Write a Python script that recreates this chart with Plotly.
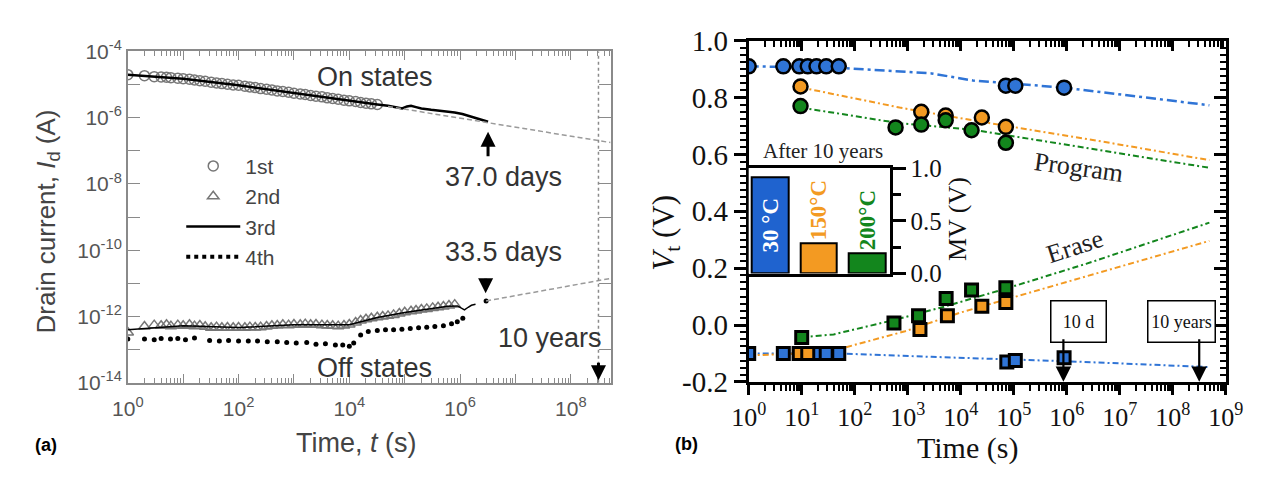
import math
import plotly.graph_objects as go

W, H = 1271, 480
SANS = "Liberation Sans, Arial, sans-serif"
SERIF = "Liberation Serif, Times New Roman, serif"

# ---------------- Panel (a) data: drain current vs time ----------------
# 1st cycle, on state (open circles)
on1_t = [1, 2, 3, 4, 5, 6, 8, 10, 13, 16, 20, 25, 32, 40, 50, 63, 80, 100, 130, 160,
         200, 250, 320, 400, 500, 630, 800, 1000, 1300, 1600, 2000, 2500, 3200, 4000,
         5000, 6300, 8000, 10000, 13000, 16000, 20000, 25000, 32000]
on1_log10_I = [-4.70, -4.73, -4.76, -4.77, -4.78, -4.79, -4.81, -4.82, -4.84, -4.86,
               -4.88, -4.90, -4.93, -4.95, -4.97, -4.99, -5.01, -5.02, -5.05, -5.07,
               -5.09, -5.12, -5.14, -5.16, -5.19, -5.21, -5.23, -5.26, -5.28, -5.30,
               -5.33, -5.35, -5.37, -5.40, -5.42, -5.44, -5.47, -5.49, -5.51, -5.54,
               -5.56, -5.58, -5.60]
# 2nd cycle, off state (open triangles)
off2_t = [1, 2, 3, 4, 5, 6, 8, 10, 13, 16, 20, 25, 32, 40, 50, 63, 80, 100, 130, 160,
          200, 250, 320, 400, 500, 630, 800, 1000, 1300, 1600, 2000, 2500, 3200, 4000,
          5000, 6300, 8000, 10000, 13000, 16000, 20000, 25000, 32000, 40000, 50000,
          63000, 80000, 1.0e5, 1.3e5, 1.6e5, 2.0e5, 2.5e5, 3.2e5, 4.0e5, 5.0e5, 6.3e5, 8.0e5]
off2_log10_I = [-12.48, -12.30, -12.26, -12.28, -12.25, -12.29, -12.26, -12.28, -12.25,
                -12.29, -12.27, -12.31, -12.34, -12.32, -12.34, -12.33, -12.34, -12.33,
                -12.34, -12.32, -12.33, -12.32, -12.30, -12.28, -12.27, -12.25, -12.26,
                -12.24, -12.25, -12.23, -12.25, -12.24, -12.26, -12.27, -12.28, -12.29,
                -12.27, -12.24, -12.18, -12.12, -12.08, -12.05, -12.02, -12.00, -11.98,
                -11.95, -11.91, -11.87, -11.84, -11.82, -11.79, -11.77, -11.74, -11.72,
                -11.70, -11.67, -11.64]
# 3rd cycle (solid line), on and off states
on3_t = [1, 10, 100, 1000, 10000, 32000, 50000, 70000, 90000, 1.1e5, 1.3e5, 1.6e5,
         2.0e5, 3.0e5, 5.0e5, 8.0e5, 1.1e6, 1.5e6, 2.0e6, 2.6e6, 3.2e6]
on3_log10_I = [-4.70, -4.82, -5.02, -5.26, -5.49, -5.60, -5.64, -5.68, -5.72, -5.66,
               -5.64, -5.68, -5.72, -5.76, -5.79, -5.84, -5.89, -5.96, -6.02, -6.08, -6.12]
off3_t = [1, 10, 100, 1000, 10000, 32000, 1.0e5, 3.0e5, 6.0e5, 9.0e5, 1.2e6, 1.4e6,
          1.6e6, 1.9e6]
off3_log10_I = [-12.40, -12.28, -12.33, -12.25, -12.25, -12.03, -11.88, -11.75, -11.69,
                -11.68, -11.80, -11.72, -11.66, -11.63]
# 4th cycle, off state (dots)
off4_t = [1, 2, 3, 4, 5.9, 8, 11, 16, 30, 45, 66, 100, 150, 220, 330, 500, 740, 1100,
          1700, 2500, 3700, 5600, 7600, 10000, 12000, 16000, 22000, 32000, 45000, 63000,
          89000, 1.26e5, 1.78e5, 2.5e5, 3.5e5, 5.0e5, 7.0e5, 8.9e5, 1.12e6, 2.95e6]
off4_log10_I = [-12.68, -12.68, -12.70, -12.66, -12.68, -12.66, -12.70, -12.65, -12.72,
                -12.74, -12.72, -12.74, -12.74, -12.74, -12.76, -12.76, -12.78, -12.80,
                -12.78, -12.84, -12.82, -12.86, -12.86, -12.90, -12.80, -12.56, -12.45,
                -12.42, -12.40, -12.40, -12.38, -12.36, -12.34, -12.32, -12.30, -12.28,
                -12.22, -12.16, -12.05, -11.53]
# extrapolation fits (grey dashed)
on_fit_t = [5.0e4, 5.2e8]
on_fit_log10_I = [-5.66, -6.75]
off_fit_t = [2.95e6, 5.2e8]
off_fit_log10_I = [-11.53, -10.85]

ten_years_s = 10 * 365 * 86400
on_days = 37.0
off_days = 33.5

# ---------------- Panel (b) data: Vt vs time ----------------
prog30_t = [1, 4.5, 9, 13, 19, 29, 50, 7.1e4, 1.07e5, 8.9e5]
prog30_V = [0.91, 0.91, 0.91, 0.91, 0.91, 0.91, 0.91, 0.842, 0.842, 0.835]
prog150_t = [9.5, 1800, 5200, 2.5e4, 7.1e4]
prog150_V = [0.839, 0.75, 0.737, 0.73, 0.697]
prog200_t = [9.5, 590, 1800, 5200, 1.6e4, 7.1e4]
prog200_V = [0.77, 0.695, 0.705, 0.72, 0.685, 0.641]
erase30_t = [1, 4.5, 9, 13, 19, 29, 50, 7.4e4, 1.07e5, 8.9e5]
erase30_V = [-0.10, -0.10, -0.10, -0.10, -0.10, -0.10, -0.10, -0.13, -0.125, -0.115]
erase150_t = [9, 13, 1700, 5600, 2.5e4, 7.1e4]
erase150_V = [-0.10, -0.10, -0.016, 0.033, 0.066, 0.079]
erase200_t = [10, 550, 1600, 5300, 1.6e4, 7.1e4]
erase200_V = [-0.044, 0.007, 0.033, 0.093, 0.123, 0.131]

fit30p_t = [1, 50, 2800, 1.7e4, 8.9e5, 4.9e8]
fit30p_V = [0.91, 0.905, 0.885, 0.86, 0.835, 0.773]
fit150p_t = [9.5, 700, 1.7e4, 4.8e6, 4.9e8]
fit150p_V = [0.836, 0.765, 0.72, 0.645, 0.58]
fit200p_t = [9.5, 700, 1.7e4, 4.8e6, 4.9e8]
fit200p_V = [0.765, 0.71, 0.687, 0.612, 0.553]
fit30e_t = [1, 50, 2800, 1.2e6, 4.9e8]
fit30e_V = [-0.10, -0.10, -0.112, -0.128, -0.148]
fit150e_t = [1, 10, 50, 890, 1.0e4, 1.07e5, 2.3e6, 4.9e8]
fit150e_V = [-0.107, -0.10, -0.085, -0.022, 0.044, 0.099, 0.17, 0.296]
fit200e_t = [10, 40, 510, 5200, 7.1e4, 2.3e6, 4.9e8]
fit200e_V = [-0.043, -0.033, 0.016, 0.066, 0.128, 0.215, 0.36]

ten_days_s = 10 * 86400

# inset: memory window after 10 years
mv_labels = ["30 °C", "150°C", "200°C"]
mv_values = [0.91, 0.29, 0.19]

# ---------------- styling ----------------
BLUE = "#2f74d6"
BLUE_BAR = "#1f63cf"
ORANGE = "#f39a22"
GREEN = "#13861d"
GREY = "#777777"
AX_A = "#8a8a8a"


def pw(v):
    return [10 ** e for e in v]


fig = go.Figure()

# ---- panel (a) traces ----
fig.add_trace(go.Scatter(x=on1_t, y=pw(on1_log10_I), mode="markers", name="1st",
                         marker=dict(symbol="circle-open", size=10, color=GREY,
                                     line=dict(width=1.5)),
                         xaxis="x", yaxis="y", legendgroup="a1"))
fig.add_trace(go.Scatter(x=off2_t, y=pw(off2_log10_I), mode="markers", name="2nd",
                         marker=dict(symbol="triangle-up-open", size=10, color=GREY,
                                     line=dict(width=1.5)),
                         xaxis="x", yaxis="y", legendgroup="a2"))
fig.add_trace(go.Scatter(x=on3_t, y=pw(on3_log10_I), mode="lines", name="3rd",
                         line=dict(color="black", width=2.5),
                         xaxis="x", yaxis="y", legendgroup="a3"))
fig.add_trace(go.Scatter(x=off3_t, y=pw(off3_log10_I), mode="lines", name="3rd",
                         line=dict(color="black", width=1.5), showlegend=False,
                         xaxis="x", yaxis="y", legendgroup="a3"))
fig.add_trace(go.Scatter(x=off4_t, y=pw(off4_log10_I), mode="markers", name="4th",
                         marker=dict(symbol="circle", size=5, color="black"),
                         showlegend=False, xaxis="x", yaxis="y", legendgroup="a4"))
fig.add_trace(go.Scatter(x=[None], y=[None], mode="lines", name="4th",
                         line=dict(color="black", width=4, dash="4px,4px"),
                         xaxis="x", yaxis="y", legendgroup="a4"))
for ft, fv in ((on_fit_t, on_fit_log10_I), (off_fit_t, off_fit_log10_I)):
    fig.add_trace(go.Scatter(x=ft, y=pw(fv), mode="lines", showlegend=False,
                             line=dict(color="#9a9a9a", width=1.5, dash="5px,3px"),
                             xaxis="x", yaxis="y"))

# ---- panel (b) traces ----
for ft, fv, col, dash, wd in (
        (fit30p_t, fit30p_V, BLUE, "10px,4px,3px,4px", 2.5),
        (fit150p_t, fit150p_V, ORANGE, "6px,3px,2px,3px", 2),
        (fit200p_t, fit200p_V, GREEN, "6px,3px,2px,3px", 2),
        (fit30e_t, fit30e_V, BLUE, "6px,3px,2px,3px", 2),
        (fit150e_t, fit150e_V, ORANGE, "6px,3px,2px,3px", 2),
        (fit200e_t, fit200e_V, GREEN, "6px,3px,2px,3px", 2)):
    fig.add_trace(go.Scatter(x=ft, y=fv, mode="lines", showlegend=False,
                             line=dict(color=col, width=wd, dash=dash),
                             xaxis="x2", yaxis="y2"))

for tt, vv, col in ((prog30_t, prog30_V, BLUE), (prog150_t, prog150_V, ORANGE),
                    (prog200_t, prog200_V, GREEN)):
    fig.add_trace(go.Scatter(x=tt, y=vv, mode="markers", showlegend=False,
                             marker=dict(symbol="circle", size=14, color=col,
                                         line=dict(color="black", width=2.5)),
                             xaxis="x2", yaxis="y2"))
for tt, vv, col in ((erase30_t, erase30_V, BLUE), (erase150_t, erase150_V, ORANGE),
                    (erase200_t, erase200_V, GREEN)):
    fig.add_trace(go.Scatter(x=tt, y=vv, mode="markers", showlegend=False,
                             marker=dict(symbol="square", size=12, color=col,
                                         line=dict(color="black", width=3)),
                             xaxis="x2", yaxis="y2"))

# empty traces to activate the mirrored (inward-tick) axes
fig.add_trace(go.Scatter(x=[], y=[], xaxis="x4", yaxis="y2", showlegend=False))
fig.add_trace(go.Scatter(x=[], y=[], xaxis="x2", yaxis="y4", showlegend=False))

# inset bars
fig.add_trace(go.Bar(x=mv_labels, y=mv_values, xaxis="x3", yaxis="y3", width=0.76,
                     showlegend=False,
                     marker=dict(color=[BLUE_BAR, ORANGE, GREEN],
                                 line=dict(color="black", width=2)),
                     text=mv_labels, textposition=["inside", "outside", "outside"],
                     textangle=-90, insidetextanchor="middle", constraintext="none",
                     cliponaxis=False,
                     textfont=dict(family=SERIF, size=23, weight="bold",
                                   color=["white", ORANGE, GREEN])))

# ---------------- axes ----------------
a_xvals = [10 ** k for k in range(0, 9)]
a_xtext = [("10<sup>%d</sup>" % k) if k % 2 == 0 else "" for k in range(0, 9)]
a_xminor = [m * 10 ** k for k in range(0, 9) for m in range(2, 10)]
a_yvals = [10.0 ** k for k in range(-14, -3)]
a_ytext = [("10<sup>-%d</sup>" % (-k)) if k % 2 == 0 else "" for k in range(-14, -3)]

b_xvals = [10 ** k for k in range(0, 10)]
b_xtext = ["10<sup>%d</sup>" % k for k in range(0, 10)]
b_xminor = [m * 10 ** k for k in range(0, 9) for m in range(2, 10)]
b_yvals = [-0.2, 0.0, 0.2, 0.4, 0.6, 0.8, 1.0]
b_ytext = ["-0.2", "0.0", "0.2", "0.4", "0.6", "0.8", "1.0"]
b_yminor = [round(-0.2 + 0.025 * i, 3) for i in range(49)]

a_font = dict(family=SANS, size=21, color="#555555")
b_font = dict(family=SERIF, size=29, color="#111111")

common_a = dict(showline=True, linecolor=AX_A, linewidth=1.5, mirror="ticks",
                ticks="inside", tickcolor=AX_A, tickwidth=1.2, showgrid=False,
                zeroline=False, tickmode="array", tickfont=a_font)

fig.update_layout(
    xaxis=dict(type="log", range=[0, 8.72], domain=[113 / W, 610 / W], anchor="y",
               tickvals=a_xvals, ticktext=a_xtext, ticklen=9, ticklabelstandoff=6,
               minor=dict(ticks="inside", ticklen=5, tickcolor=AX_A, tickwidth=1,
                          tickmode="array", tickvals=a_xminor, showgrid=False),
               **common_a),
    yaxis=dict(type="log", range=[-14, -4], domain=[1 - 393 / H, 1 - 38 / H], anchor="x",
               tickvals=a_yvals, ticktext=a_ytext, ticklen=12, **common_a),
    xaxis2=dict(type="log", range=[0, 9], domain=[752 / W, 1243 / W], anchor="y2",
                showline=True, linecolor="black", linewidth=3, ticks="outside",
                ticklen=10, tickwidth=2.5, tickcolor="black", showgrid=False,
                zeroline=False, tickmode="array", tickvals=b_xvals, ticktext=b_xtext,
                tickfont=dict(family=SERIF, size=26, color="#111111"),
                minor=dict(ticks="outside", ticklen=6, tickwidth=2, tickcolor="black",
                           tickmode="array", tickvals=b_xminor, showgrid=False)),
    yaxis2=dict(range=[-0.2, 1.0], domain=[1 - 392 / H, 1 - 26.5 / H], anchor="x2",
                showline=True, linecolor="black", linewidth=3, ticks="outside",
                ticklen=12, tickwidth=2.5, tickcolor="black", showgrid=False,
                zeroline=False, tickmode="array", tickvals=b_yvals, ticktext=b_ytext,
                tickfont=b_font,
                minor=dict(ticks="outside", ticklen=6, tickwidth=2, tickcolor="black",
                           tickmode="array", tickvals=b_yminor, showgrid=False)),
    xaxis4=dict(type="log", range=[0, 9], overlaying="x2", side="top", anchor="y2",
                showline=True, linecolor="black", linewidth=3, ticks="inside",
                ticklen=10, tickwidth=2.5, tickcolor="black", showgrid=False,
                zeroline=False, tickmode="array", tickvals=b_xvals,
                showticklabels=False,
                minor=dict(ticks="inside", ticklen=6, tickwidth=2, tickcolor="black",
                           tickmode="array", tickvals=b_xminor, showgrid=False)),
    yaxis4=dict(range=[-0.2, 1.0], overlaying="y2", side="right", anchor="x2",
                showline=True, linecolor="black", linewidth=3, ticks="inside",
                ticklen=12, tickwidth=2.5, tickcolor="black", showgrid=False,
                zeroline=False, tickmode="array", tickvals=b_yvals,
                showticklabels=False,
                minor=dict(ticks="inside", ticklen=6, tickwidth=2, tickcolor="black",
                           tickmode="array", tickvals=b_yminor, showgrid=False)),
    xaxis3=dict(type="category", range=[-0.44, 2.46], domain=[752 / W, 897 / W],
                anchor="y3", showline=True, mirror=True, linecolor="black",
                linewidth=3, ticks="", showticklabels=False, showgrid=False,
                zeroline=False, fixedrange=True),
    yaxis3=dict(range=[0, 1], domain=[1 - 276 / H, 1 - 163 / H], anchor="x3",
                side="right", showline=True, linecolor="black", linewidth=3,
                ticks="outside", ticklen=13, tickwidth=3, tickcolor="black",
                tickmode="array", tickvals=[0, 0.5, 1.0],
                ticktext=["0.0", "0.5", "1.0"], showgrid=False, zeroline=False,
                tickfont=dict(family=SERIF, size=25, color="#111111"),
                minor=dict(ticks="outside", ticklen=8, tickwidth=3, tickcolor="black",
                           tickmode="array", tickvals=[0.25, 0.75], showgrid=False)),
)

# ---------------- shapes ----------------
fig.add_shape(type="rect", xref="x3", yref="y3", x0=-0.40, x1=2.46, y0=0, y1=1,
              fillcolor="white", line=dict(width=0), layer="below")
fig.add_shape(type="line", xref="x", yref="y domain", x0=ten_years_s, x1=ten_years_s,
              y0=0, y1=1, line=dict(color="#8a8a8a", width=1.5, dash="dot"))

# ---------------- annotations ----------------
ann = []


def txt(x, y, s, size, color, family, angle=0, **kw):
    d = dict(xref="paper", yref="paper", x=x / W, y=1 - y / H, text=s, showarrow=False,
             font=dict(size=size, color=color, family=family), textangle=angle,
             xanchor="center", yanchor="middle")
    d.update(kw)
    ann.append(d)


TXT_A = "#333333"
txt(367, 65, "On states", 27, TXT_A, SANS)
txt(500, 172, "37.0 days", 27, TXT_A, SANS)
txt(500, 253, "33.5 days", 27, TXT_A, SANS)
txt(547, 345, "10 years", 27, TXT_A, SANS)
txt(367, 377, "Off states", 27, TXT_A, SANS)
txt(30, 220, "Drain current, <i>I</i><sub>d</sub> (A)", 26, "#444444", SANS, -90)
txt(348, 458, "Time, <i>t</i> (s)", 27, "#444444", SANS)
txt(29, 460, "<b>(a)</b>", 18, "black", SANS)

txt(688, 459, "<b>(b)</b>", 18, "black", SANS)
txt(977, 463, "Time (s)", 30, "#111111", SERIF)
txt(666, 232, "<i>V</i><sub>t</sub> (V)", 31, "#111111", SERIF, -90)
txt(828, 145, "After 10 years", 21, "#222222", SERIF)
txt(1092, 162, "Program", 26, "#222222", SERIF, 8)
txt(1088, 247, "Erase", 26, "#222222", SERIF, -18)
txt(967, 218, "MV (V)", 26, "#111111", SERIF, -90)
txt(1091, 327, "10 d", 18, "#111111", SERIF, 0, bordercolor="black", borderwidth=1.5,
    borderpad=0, bgcolor="white", width=54, height=40)
txt(1197, 327, "10 years", 18, "#111111", SERIF, 0, bordercolor="black",
    borderwidth=1.5, borderpad=0, bgcolor="white", width=66, height=40)

# arrows, panel (a)  (log axes: positions given as log10 values)
ann.append(dict(xref="x", yref="y", x=math.log10(on_days * 86400), y=-6.42, ax=0, ay=26,
                text="", showarrow=True, arrowhead=2, arrowsize=1.0, arrowwidth=3,
                arrowcolor="black"))
ann.append(dict(xref="x", yref="y", x=math.log10(off_days * 86400), y=-11.30, ax=0,
                ay=-16, text="", showarrow=True, arrowhead=2, arrowsize=1.0,
                arrowwidth=3, arrowcolor="black"))
ann.append(dict(xref="x", yref="y", x=math.log10(ten_years_s), y=-13.92, ax=0, ay=-19,
                text="", showarrow=True, arrowhead=2, arrowsize=1.0, arrowwidth=3,
                arrowcolor="black"))
# arrows, panel (b)
ann.append(dict(xref="x2", yref="y2", x=math.log10(ten_days_s), y=-0.2, ax=0, ay=-44,
                text="", showarrow=True, arrowhead=2, arrowsize=1.4, arrowwidth=2.2,
                arrowcolor="black"))
ann.append(dict(xref="x2", yref="y2", x=math.log10(ten_years_s), y=-0.2, ax=0, ay=-44,
                text="", showarrow=True, arrowhead=2, arrowsize=1.4, arrowwidth=2.2,
                arrowcolor="black"))

fig.update_layout(
    annotations=ann,
    width=W, height=H, autosize=False,
    margin=dict(l=0, r=0, t=0, b=0),
    paper_bgcolor="white", plot_bgcolor="white",
    font=dict(family=SANS),
    legend=dict(x=168 / W, y=1 - 139 / H, xanchor="left", yanchor="top",
                font=dict(family=SANS, size=21, color="#444444"),
                bgcolor="rgba(0,0,0,0)", itemwidth=54,
                traceorder="normal"),
    bargap=0,
)

fig.write_html("out.html")
